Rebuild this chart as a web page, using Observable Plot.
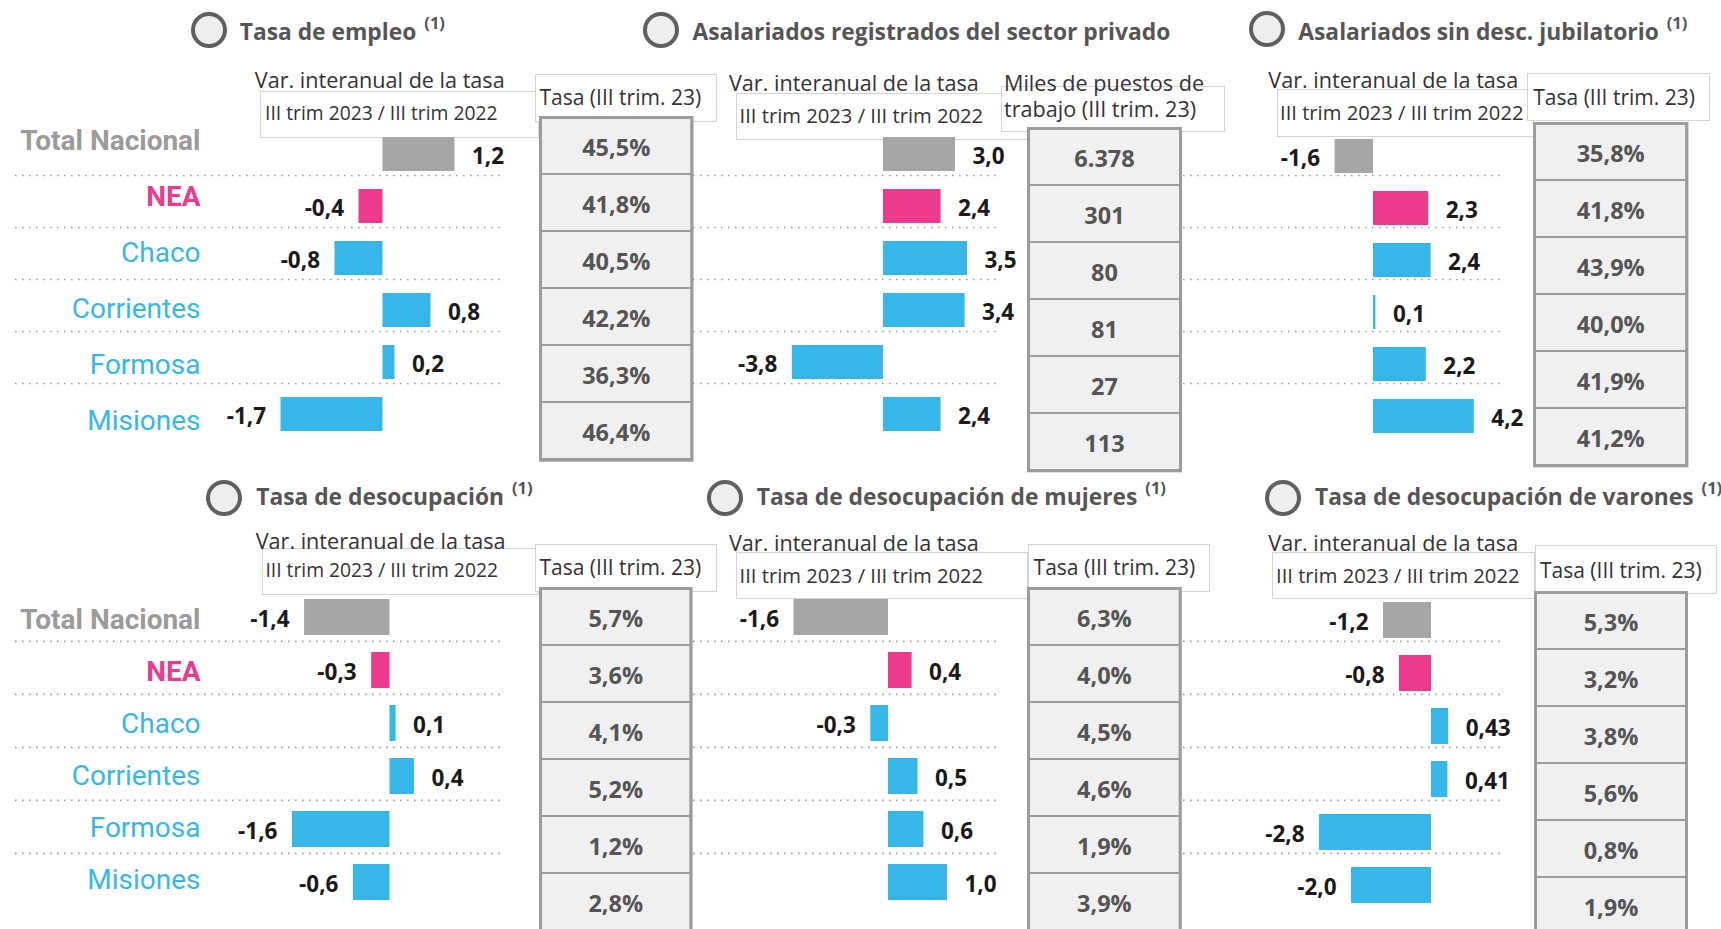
<!DOCTYPE html>
<html><head><meta charset="utf-8">
<script src="https://cdn.jsdelivr.net/npm/d3@7"></script>
<script src="https://cdn.jsdelivr.net/npm/@observablehq/plot@0.6"></script>
<style>
body{margin:0;background:#fff;font-family:"Open Sans",sans-serif;}
#root{position:relative;width:1721px;height:929px;overflow:hidden;background:#fff;}
.box{position:absolute;border:1px solid #d4d4d4;background:#fff;box-sizing:border-box;}
.hdr{position:absolute;font-family:"Open Sans",sans-serif;font-weight:400;font-size:21px;color:#333;line-height:1;white-space:nowrap;transform:translateY(-50%);}
.hdr.var{font-size:21.6px;}
.hdr.trim{font-size:20.2px;}
.hdr.trim.narrow{font-size:19.3px;}
.hdr.miles{font-size:21.6px;}
.title{position:absolute;font-family:"Open Sans",sans-serif;font-weight:700;font-size:22.8px;color:#555;line-height:1;white-space:nowrap;transform:translateY(-50%);}
.title sup{font-size:16.5px;vertical-align:top;position:relative;top:-6px;margin-left:8px;}
.circ{position:absolute;width:36px;height:36px;box-sizing:border-box;border:4px solid #5f5f5f;border-radius:50%;background:#eeeeee;}
.plotwrap{position:absolute;}
.plotwrap svg{overflow:visible;}
</style></head>
<body><div id="root"></div>
<script>
// ---------- DATA ----------
const regions = ["Total Nacional", "NEA", "Chaco", "Corrientes", "Formosa", "Misiones"];
const regionGroups = ["total", "nea", "prov", "prov", "prov", "prov"];

const empleoVar = [1.2, -0.4, -0.8, 0.8, 0.2, -1.7];
const empleoTasa = [45.5, 41.8, 40.5, 42.2, 36.3, 46.4];

const registradosVar = [3.0, 2.4, 3.5, 3.4, -3.8, 2.4];
const registradosMiles = [6378, 301, 80, 81, 27, 113];

const sinDescVar = [-1.6, 2.3, 2.4, 0.1, 2.2, 4.2];
const sinDescTasa = [35.8, 41.8, 43.9, 40.0, 41.9, 41.2];

const desocVar = [-1.4, -0.3, 0.1, 0.4, -1.6, -0.6];
const desocTasa = [5.7, 3.6, 4.1, 5.2, 1.2, 2.8];

const mujeresVar = [-1.6, 0.4, -0.3, 0.5, 0.6, 1.0];
const mujeresTasa = [6.3, 4.0, 4.5, 4.6, 1.9, 3.9];

const varonesVar = [-1.2, -0.8, 0.43, 0.41, -2.8, -2.0];
const varonesTasa = [5.3, 3.2, 3.8, 5.6, 0.8, 1.9];

const panelTitles = ["Tasa de empleo", "Asalariados registrados del sector privado", "Asalariados sin desc. jubilatorio",
  "Tasa de desocupación", "Tasa de desocupación de mujeres", "Tasa de desocupación de varones"];
const titleNotes = ["(1)", "", "(1)", "(1)", "(1)", "(1)"];
const varHeaderLines = ["Var. interanual de la tasa", "III trim 2023 / III trim 2022"];
const tasaHeaderLines = ["Tasa (III trim. 23)"];
const milesHeaderLines = ["Miles de puestos de", "trabajo (III trim. 23)"];

// ---------- STYLE ----------
const groupColors = {domain: ["total", "nea", "prov"], range: ["#a6a6a6", "#ec3b8c", "#37b7e8"]};
const labelColors = {domain: ["total", "nea", "prov"], range: ["#9b9b9b", "#ec3b8c", "#37b7e8"]};
const FONT = "'Open Sans', sans-serif";

// ---------- FORMATS ----------
const esLocale = d3.formatLocale({decimal: ",", thousands: ".", grouping: [3], currency: ["$", ""]});
const fmtThousands = esLocale.format(",d");
const fmtVar = v => (Math.round(Math.abs(v) * 100) % 10 === 0 ? v.toFixed(1) : v.toFixed(2)).replace(".", ",");
const fmtPct = v => v.toFixed(1).replace(".", ",") + "%";

// ---------- LAYOUT ----------
const rows = {
  top:    {barTop: 125.7, step: 52.6, bw: 34,   ruleGap: 4, labelTop: 112, labelStep: 56.2},
  bottom: {barTop: 589.6, step: 53.1, bw: 35.7, ruleGap: 6, labelTop: 593.1, labelStep: 52.3}
};
const panels = [
  {row: "top", vals: empleoVar, tbl: empleoTasa, fmt: fmtPct, hdr: tasaHeaderLines, hdrCls: "", labels: true,
   x0: 15, x1: 505, zero: 382.5, ppu: 60, off: 0,
   circle: [208.5, 29.5], tx: 239.7, ty: 32.3,
   varText: [254.8, 80], varBox: [260, 90.7, 539, 138.3], trimText: [265, 113],
   hdrBox: [535, 74, 717, 121.7], hdrPos: [[539.5, 96.7]], table: [539.5, 117.3, 691, 460]},
  {row: "top", vals: registradosVar, tbl: registradosMiles, fmt: fmtThousands, hdr: milesHeaderLines, hdrCls: "miles", labels: false,
   x0: 693, x1: 1000, zero: 883, ppu: 24, off: 0,
   circle: [660.7, 29.5], tx: 692.5, ty: 32.3,
   varText: [729, 83.3], varBox: [736, 92.7, 1028, 140], trimText: [739.6, 115],
   hdrBox: [1001, 86, 1225, 132.3], hdrPos: [[1004, 82.5], [1004, 109]], table: [1028, 127.7, 1180, 470]},
  {row: "top", vals: sinDescVar, tbl: sinDescTasa, fmt: fmtPct, hdr: tasaHeaderLines, hdrCls: "", labels: false,
   x0: 1183, x1: 1505, zero: 1373, ppu: 24, off: 2,
   circle: [1266.7, 29.3], tx: 1298.3, ty: 32.3,
   varText: [1268.3, 80], varBox: [1277.3, 89.3, 1534, 137.3], trimText: [1280, 111.7],
   hdrBox: [1527.3, 73.3, 1710, 121], hdrPos: [[1533.3, 97.3]], table: [1534.3, 123.3, 1686.7, 465.7]},
  {row: "bottom", vals: desocVar, tbl: desocTasa, fmt: fmtPct, hdr: tasaHeaderLines, hdrCls: "", labels: true,
   x0: 15, x1: 505, zero: 389.5, ppu: 61, off: 0,
   circle: [224, 498.3], tx: 256.2, ty: 497.3,
   varText: [255.7, 541], varBox: [261.7, 548.3, 539.5, 595], trimText: [265.4, 570],
   hdrBox: [535, 544.3, 717, 592.3], hdrPos: [[539.5, 567.3]], table: [540.4, 588.3, 691, 930.6]},
  {row: "bottom", vals: mujeresVar, tbl: mujeresTasa, fmt: fmtPct, hdr: tasaHeaderLines, hdrCls: "", labels: false,
   x0: 693, x1: 1000, zero: 888, ppu: 59, off: 0,
   circle: [725.2, 498], tx: 756.8, ty: 497.3,
   varText: [729, 543.3], varBox: [736, 551.7, 1028, 599.3], trimText: [739.6, 575],
   hdrBox: [1027.5, 544.3, 1210.4, 592.3], hdrPos: [[1033.6, 567.3]], table: [1028.2, 588.3, 1180, 930.6]},
  {row: "bottom", vals: varonesVar, tbl: varonesTasa, fmt: fmtPct, hdr: tasaHeaderLines, hdrCls: "", labels: false,
   x0: 1183, x1: 1505, zero: 1431, ppu: 40, off: 3,
   circle: [1283, 498], tx: 1315, ty: 497.3,
   varText: [1268.3, 543.3], varBox: [1272.3, 551.7, 1535, 599.3], trimText: [1276, 575],
   hdrBox: [1535, 545, 1717.3, 594.3], hdrPos: [[1540, 570]], table: [1535, 591.7, 1686, 934]}
];

// ---------- HELPERS ----------
const root = document.getElementById("root");
function el(cls, html) { const e = document.createElement("div"); e.className = cls; if (html != null) e.innerHTML = html; return e; }
function put(e, x, y, w, h) {
  e.style.left = x + "px"; e.style.top = y + "px";
  if (w != null) e.style.width = w + "px";
  if (h != null) e.style.height = h + "px";
  root.appendChild(e); return e;
}
function putPlot(svg, x, y, w, h) {
  const wrap = el("plotwrap"); wrap.appendChild(svg); put(wrap, x, y, w, h); return wrap;
}
const plotStyle = {background: "transparent", overflow: "visible", fontFamily: FONT};

// boxes first (lowest layer)
panels.forEach(p => {
  const [a, b, c, d] = p.varBox; put(el("box"), a, b, c - a, d - b);
  const [e, f, g, h] = p.hdrBox; put(el("box"), e, f, g - e, h - f);
});

// header texts & titles
panels.forEach((p, i) => {
  put(el("hdr var", varHeaderLines[0]), p.varText[0], p.varText[1]);
  put(el("hdr trim" + (p.labels ? " narrow" : ""), varHeaderLines[1]), p.trimText[0], p.trimText[1]);
  p.hdr.forEach((line, j) => put(el("hdr " + p.hdrCls, line), p.hdrPos[j][0], p.hdrPos[j][1]));
  put(el("circ"), p.circle[0] - 18, p.circle[1] - 18);
  put(el("title", panelTitles[i] + (titleNotes[i] ? "<sup>" + titleNotes[i] + "</sup>" : "")), p.tx, p.ty);
});

// plots
panels.forEach(p => {
  const R = rows[p.row];
  const data = regions.map((r, i) => ({region: r, group: regionGroups[i], v: p.vals[i], label: fmtVar(p.vals[i]),
                                       t: p.tbl[i], tlabel: p.fmt(p.tbl[i])}));
  const W = p.x1 - p.x0, H = R.step * 6;
  const pi = 1 - R.bw / R.step;

  // row labels (left column only)
  if (p.labels) {
    const lp = Plot.plot({
      width: 205, height: R.labelStep * 6, margin: 0,
      y: {type: "band", domain: regions, axis: null, padding: 0},
      color: labelColors,
      style: {...plotStyle, fontFamily: "Roboto, sans-serif"},
      marks: [
        Plot.text(data.slice(0, 2), {y: "region", text: "region", fill: "group", frameAnchor: "right", dx: -5,
          fontSize: 28, fontWeight: "bold"}),
        Plot.text(data.slice(2), {y: "region", text: "region", fill: "group", frameAnchor: "right", dx: -5,
          fontSize: 28, fontWeight: "normal"})
      ]
    });
    putPlot(lp, 0, R.labelTop, 205, R.labelStep * 6);
  }

  // bars
  const bp = Plot.plot({
    width: W, height: H, margin: 0,
    x: {domain: [-(p.zero - p.x0) / p.ppu, (p.x1 - p.zero) / p.ppu], axis: null},
    y: {domain: regions, axis: null, paddingInner: pi, paddingOuter: pi / 2},
    color: groupColors,
    style: plotStyle,
    marks: [
      Plot.ruleY(regions.slice(0, 5), {dy: R.bw / 2 + R.ruleGap - p.off, stroke: "#a0a0a0", strokeWidth: 1.6,
        strokeDasharray: "1.6,5.4"}),
      Plot.barX(data, {x: "v", y: "region", fill: "group"}),
      Plot.text(data.filter(d => d.v >= 0), {x: "v", y: "region", text: "label", textAnchor: "start", dx: 17, dy: 2,
        fontSize: 22.5, fontWeight: "bold", fill: "#1a1a1a"}),
      Plot.text(data.filter(d => d.v < 0), {x: "v", y: "region", text: "label", textAnchor: "end", dx: -15, dy: 2,
        fontSize: 22.5, fontWeight: "bold", fill: "#1a1a1a"})
    ]
  });
  putPlot(bp, p.x0, R.barTop + p.off, W, H);

  // table
  const [tx0, ty0, tx1, ty1] = p.table;
  const tp = Plot.plot({
    width: tx1 - tx0, height: ty1 - ty0, margin: 0,
    y: {domain: regions, axis: null, padding: 0},
    style: plotStyle,
    marks: [
      Plot.cell(data, {y: "region", fill: "#f0f0f0", stroke: "#9c9c9c", strokeWidth: 2}),
      Plot.frame({stroke: "#9c9c9c", strokeWidth: 3}),
      Plot.text(data, {y: "region", text: "tlabel", fontSize: 23.5, fontWeight: "bold", fill: "#555", dy: 2})
    ]
  });
  putPlot(tp, tx0, ty0, tx1 - tx0, ty1 - ty0);
});
</script>
</body></html>
